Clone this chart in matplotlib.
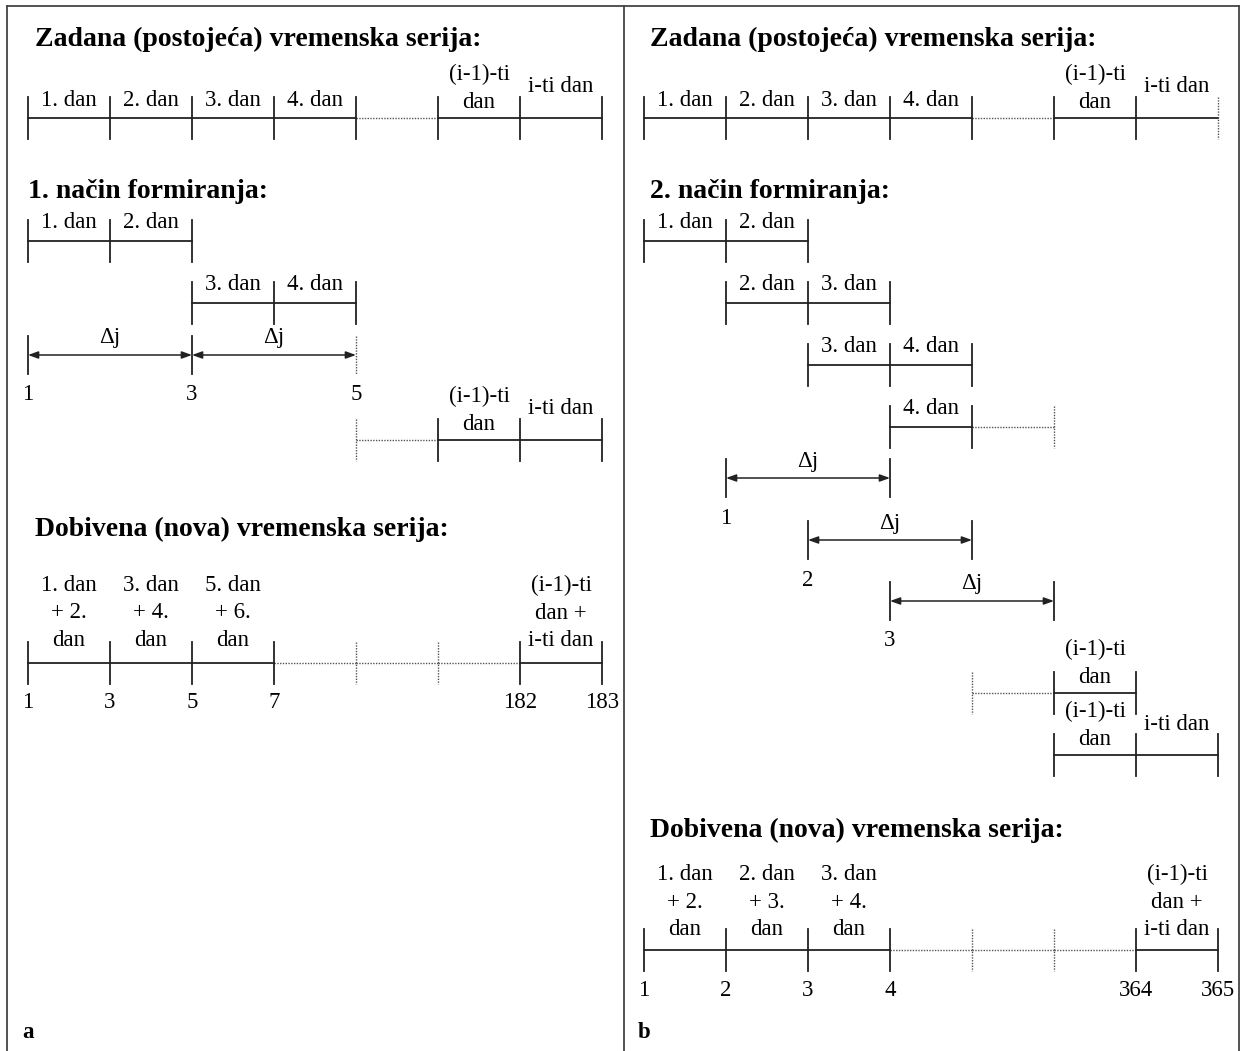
import matplotlib
matplotlib.use("Agg")
import matplotlib.pyplot as plt
from matplotlib.lines import Line2D

plt.rcParams['font.family'] = ['Liberation Serif', 'DejaVu Serif']

W, H = 1247, 1051
STEP = 82          # pixels per day slot
INK = '#222222'

# ---- data: rows of the diagram (S = solid, D = dotted) ----
top_labels = ['1. dan', '2. dan', '3. dan', '4. dan', None, '(i-1)-ti\ndan', 'i-ti dan']
top_segs = 'SSSSDSS'
top_ticks_a = 'SSSSSSSS'
top_ticks_b = 'SSSSSSSD'

# panel a: 1. nacin formiranja  (y, start slot, segments, ticks, labels)
rows_a = [
    (241, 0, 'SS', 'SSS', ['1. dan', '2. dan']),
    (303, 2, 'SS', 'SSS', ['3. dan', '4. dan']),
    (440, 4, 'DSS', 'DSSS', [None, '(i-1)-ti\ndan', 'i-ti dan']),
]
delta_a = [(355, 0, 2, 'SSD', ['1', '3', '5'])]

# panel b: 2. nacin formiranja
rows_b = [
    (241, 0, 'SS', 'SSS', ['1. dan', '2. dan']),
    (303, 1, 'SS', 'SSS', ['2. dan', '3. dan']),
    (365, 2, 'SS', 'SSS', ['3. dan', '4. dan']),
    (427, 3, 'SD', 'SSD', ['4. dan', None]),
    (693, 4, 'DS', 'DSS', [None, '(i-1)-ti\ndan']),
    (755, 5, 'SS', 'SSS', ['(i-1)-ti\ndan', 'i-ti dan']),
]
delta_b = [(478, 1, 2, 'SS', ['1']),
           (540, 2, 2, 'SS', ['2']),
           (601, 3, 2, 'SS', ['3'])]

# resulting series
new_segs = 'SSSDDDS'
new_ticks = 'SSSSDDSS'
new_labels_a = ['1. dan\n+ 2.\ndan', '3. dan\n+ 4.\ndan', '5. dan\n+ 6.\ndan',
                None, None, None, '(i-1)-ti\ndan +\ni-ti dan']
new_nums_a = ['1', '3', '5', '7', None, None, '182', '183']
new_labels_b = ['1. dan\n+ 2.\ndan', '2. dan\n+ 3.\ndan', '3. dan\n+ 4.\ndan',
                None, None, None, '(i-1)-ti\ndan +\ni-ti dan']
new_nums_b = ['1', '2', '3', '4', None, None, '364', '365']

titles_a = ['Zadana (postojeća) vremenska serija:', '1. način formiranja:',
            'Dobivena (nova) vremenska serija:']
titles_b = ['Zadana (postojeća) vremenska serija:', '2. način formiranja:',
            'Dobivena (nova) vremenska serija:']

FS = 16.5
TFS = 20
LSP = 1.42


def style(c):
    if c == 'S':
        return dict(color=INK, lw=1.3, ls='-')
    return dict(color='#555555', lw=1.0, ls=(0, (1, 1)))


def draw_row(ax, y, start, segs, ticks, labels, gap=18, half=21):
    for k, s in enumerate(segs):
        ax.plot([start + k, start + k + 1], [y, y], **style(s))
    for k, s in enumerate(ticks):
        ax.plot([start + k, start + k], [y - half, y + half], **style(s))
    for k, lab in enumerate(labels):
        if not lab:
            continue
        n = lab.count('\n') + 1
        prev = labels[k - 1] if k > 0 else None
        if n == 1 and prev and '\n' in prev:
            cy = y - 31      # sits beside a two-line label
        elif n > 1:
            cy = y - gap - (n - 1) * 13.5 + 2
        else:
            cy = y - gap
        ax.text(start + k + 0.5, cy, lab, ha='center', va='center',
                fontsize=FS, linespacing=LSP, color='black')


def draw_delta(ax, y, start, span, ticks, nums):
    for k, s in enumerate(ticks):
        ax.plot([start + k * span] * 2, [y - 19, y + 19], **style(s))
    for k in range(len(ticks) - 1):
        x0, x1 = start + k * span, start + (k + 1) * span
        ax.annotate('', xy=(x1, y), xytext=(x0, y),
                    arrowprops=dict(arrowstyle='<|-|>,head_length=0.5,head_width=0.18',
                                    color=INK, lw=1.1, shrinkA=0, shrinkB=0,
                                    mutation_scale=12))
        ax.text((x0 + x1) / 2, y - 17, 'Δj', ha='center', va='center', fontsize=FS)
    for k, t in enumerate(nums):
        ax.text(start + k * span, y + 40, t, ha='center', va='center', fontsize=FS)


fig = plt.figure(figsize=(W / 100, H / 100), dpi=100)
fig.patch.set_facecolor('white')

panels = [(0, 624, 28), (624, W, 644)]
axes = []
for left, right, origin in panels:
    ax = fig.add_axes([left / W, 0, (right - left) / W, 1])
    ax.set_xlim((left - origin) / STEP, (right - origin) / STEP)
    ax.set_ylim(H, 0)
    ax.axis('off')
    axes.append(ax)
ax_a, ax_b = axes

# frame
for x0, y0, x1, y1 in [(7, 6, 1239, 6), (7, 6, 7, H), (624, 6, 624, H), (1239, 6, 1239, H)]:
    fig.add_artist(Line2D([x0 / W, x1 / W], [1 - y0 / H, 1 - y1 / H],
                          color='#444444', lw=1.3))

# ---- panel a ----
ax_a.text(7 / STEP, 39, titles_a[0], fontsize=TFS, fontweight='bold', va='center')
draw_row(ax_a, 118, 0, top_segs, top_ticks_a, top_labels)
ax_a.text(0, 191, titles_a[1], fontsize=TFS, fontweight='bold', va='center')
for r in rows_a:
    draw_row(ax_a, *r)
for d in delta_a:
    draw_delta(ax_a, *d)
ax_a.text(7 / STEP, 529, titles_a[2], fontsize=TFS, fontweight='bold', va='center')
draw_row(ax_a, 663, 0, new_segs, new_ticks, new_labels_a, gap=25)
for k, t in enumerate(new_nums_a):
    if t:
        ax_a.text(k, 702, t, ha='center', va='center', fontsize=FS)
ax_a.text(0, 1032, 'a', fontsize=FS, fontweight='bold', ha='center', va='center')

# ---- panel b ----
ax_b.text(6 / STEP, 39, titles_b[0], fontsize=TFS, fontweight='bold', va='center')
draw_row(ax_b, 118, 0, top_segs, top_ticks_b, top_labels)
ax_b.text(6 / STEP, 191, titles_b[1], fontsize=TFS, fontweight='bold', va='center')
for r in rows_b:
    draw_row(ax_b, *r)
for d in delta_b:
    draw_delta(ax_b, *d)
ax_b.text(6 / STEP, 830, titles_b[2], fontsize=TFS, fontweight='bold', va='center')
draw_row(ax_b, 950, 0, new_segs, new_ticks, new_labels_b, gap=23)
for k, t in enumerate(new_nums_b):
    if t:
        ax_b.text(k, 990, t, ha='center', va='center', fontsize=FS)
ax_b.text(0, 1032, 'b', fontsize=FS, fontweight='bold', ha='center', va='center')

fig.savefig('out.png', dpi=100, facecolor='white')
